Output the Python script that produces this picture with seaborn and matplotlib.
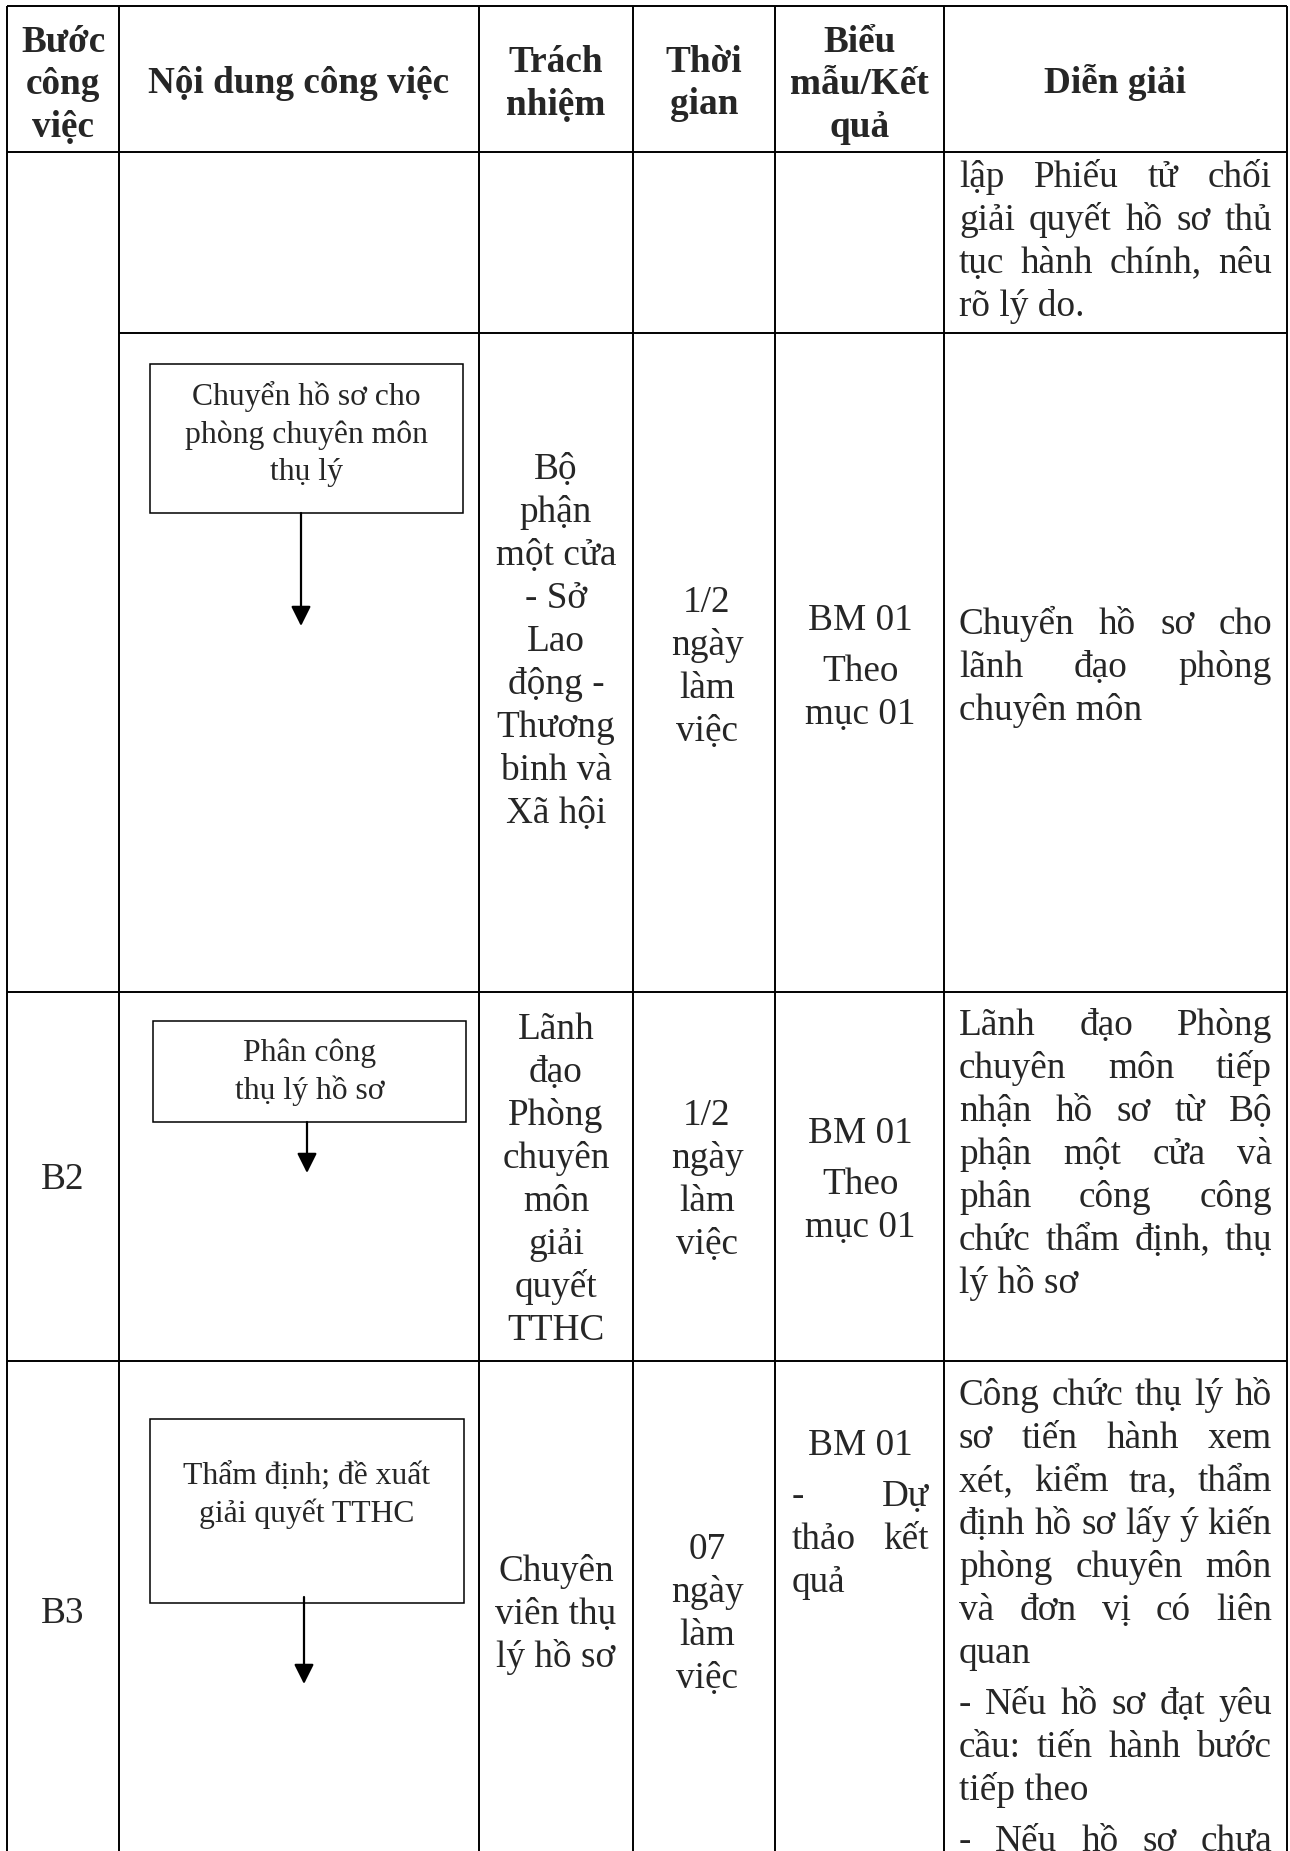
import matplotlib
matplotlib.use("Agg")
import matplotlib.pyplot as plt
from matplotlib.patches import Rectangle
import seaborn as sns

# ---- table content ----
header_step = ["Bước", "công", "việc"]
header_task = ["Nội dung công việc"]
header_resp = ["Trách", "nhiệm"]
header_time = ["Thời", "gian"]
header_form = ["Biểu", "mẫu/Kết", "quả"]
header_desc = ["Diễn giải"]

step_labels = [None, None, "B2", "B3"]

task_boxes = [
    None,
    ["Chuyển hồ sơ cho", "phòng chuyên môn", "thụ lý"],
    ["Phân công", "thụ lý hồ sơ"],
    ["Thẩm định; đề xuất", "giải quyết TTHC"],
]

responsible = [
    [],
    ["Bộ", "phận", "một cửa", "- Sở", "Lao", "động -", "Thương", "binh và", "Xã hội"],
    ["Lãnh", "đạo", "Phòng", "chuyên", "môn", "giải", "quyết", "TTHC"],
    ["Chuyên", "viên thụ", "lý hồ sơ"],
]

durations = [
    [],
    ["1/2", "ngày", "làm", "việc"],
    ["1/2", "ngày", "làm", "việc"],
    ["07", "ngày", "làm", "việc"],
]

forms = [
    [],
    [["BM 01"], ["Theo", "mục 01"]],
    [["BM 01"], ["Theo", "mục 01"]],
    [["BM 01"], ["- Dự", "thảo kết", "quả"]],
]

descriptions = [
    [["lập Phiếu tử chối", "giải quyết hồ sơ thủ", "tục hành chính, nêu", "rõ lý do."]],
    [["Chuyển hồ sơ cho", "lãnh đạo phòng", "chuyên môn"]],
    [["Lãnh đạo Phòng", "chuyên môn tiếp", "nhận hồ sơ từ Bộ", "phận một cửa và",
      "phân công công", "chức thẩm định, thụ", "lý hồ sơ"]],
    [["Công chức thụ lý hồ", "sơ tiến hành xem", "xét, kiểm tra, thẩm",
      "định hồ sơ lấy ý kiến", "phòng chuyên môn", "và đơn vị có liên", "quan"],
     ["- Nếu hồ sơ đạt yêu", "cầu: tiến hành bước", "tiếp theo"],
     ["- Nếu hồ sơ chưa"]],
]

# ---- layout (pixels) ----
W, H = 1290, 1851
col_edges = [7, 119, 479, 633, 775, 944, 1287]
row_edges = [6, 152, 333, 992, 1361]
PITCH = 43
HEAD_PITCH = 42.5
BOX_PITCH = 37.5
PARA_GAP = 8
BODY_SIZE = 26.8
BOX_SIZE = 22.8

resp_y0 = [None, 479, 1039, 1581]
time_y0 = [None, 612, 1125, 1559]
form_y0 = [None, 630, 1143, 1455]
form_modes = [[], ["center", "center"], ["center", "center"], ["center", "justify"]]
desc_y0 = [187, 634, 1035, 1405]
desc_open = [False, False, False, True]
step_y = [None, None, 1189, 1623]
box_rects = [None, (150, 364, 463, 513), (153, 1021, 466, 1122), (150, 1419, 464, 1603)]
box_text_y0 = [None, 405, 1061, 1484]
arrows = [None, (301, 513, 626), (307, 1122, 1173), (304, 1597, 1684)]

sns.set_style("white")
plt.rcParams['font.family'] = ['Liberation Serif', 'DejaVu Serif']

fig = plt.figure(figsize=(W / 100, H / 100), dpi=100)
ax = fig.add_axes([0, 0, 1, 1])
ax.set_xlim(0, W)
ax.set_ylim(H, 0)
ax.axis("off")
renderer = fig.canvas.get_renderer()


def centers(i):
    return (col_edges[i] + col_edges[i + 1]) / 2


def draw_lines(lines, x, y0, pitch, size=BODY_SIZE, **kw):
    for i, line in enumerate(lines):
        ax.text(x, y0 + i * pitch, line, ha="center", va="baseline", fontsize=size, **kw)


def draw_justified(line, x_left, x_right, y, size=BODY_SIZE):
    words = line.split()
    if len(words) == 1:
        ax.text(x_left, y, line, ha="left", va="baseline", fontsize=size)
        return
    texts = [ax.text(0, y, w, ha="left", va="baseline", fontsize=size) for w in words]
    widths = [t.get_window_extent(renderer).width for t in texts]
    gap = (x_right - x_left - sum(widths)) / (len(words) - 1)
    x = x_left
    for t, w in zip(texts, widths):
        t.set_x(x)
        x += w + gap


def draw_paragraphs(paragraphs, modes, x_left, x_right, y0, open_last=False):
    y = y0
    for p_idx, (para, mode) in enumerate(zip(paragraphs, modes)):
        for i, line in enumerate(para):
            last = i == len(para) - 1 and not (open_last and p_idx == len(paragraphs) - 1)
            if mode == "center":
                ax.text((x_left + x_right) / 2, y, line, ha="center", va="baseline",
                        fontsize=BODY_SIZE)
            elif last:
                ax.text(x_left, y, line, ha="left", va="baseline", fontsize=BODY_SIZE)
            else:
                draw_justified(line, x_left, x_right, y)
            y += PITCH
        y += PARA_GAP


# grid lines
lw = 1.4
ax.vlines(col_edges, row_edges[0], H, color="black", lw=lw)
ax.hlines(row_edges[0], col_edges[0], col_edges[-1], color="black", lw=lw)
ax.hlines(row_edges[1], col_edges[0], col_edges[-1], color="black", lw=lw)
ax.hlines(row_edges[2], col_edges[1], col_edges[-1], color="black", lw=lw)
ax.hlines(row_edges[3:], col_edges[0], col_edges[-1], color="black", lw=lw)

# header
draw_lines(header_step, centers(0), 52, HEAD_PITCH, fontweight="bold")
draw_lines(header_task, centers(1), 93, HEAD_PITCH, fontweight="bold")
draw_lines(header_resp, centers(2), 72, HEAD_PITCH, fontweight="bold")
draw_lines(header_time, centers(3), 72, HEAD_PITCH, fontweight="bold")
draw_lines(header_form, centers(4), 52, HEAD_PITCH, fontweight="bold")
draw_lines(header_desc, centers(5), 93, HEAD_PITCH, fontweight="bold")

for r in range(4):
    if step_labels[r]:
        ax.text(centers(0), step_y[r], step_labels[r], ha="center", va="baseline",
                fontsize=BODY_SIZE)
    if task_boxes[r]:
        x0, y0, x1, y1 = box_rects[r]
        ax.add_patch(Rectangle((x0, y0), x1 - x0, y1 - y0, fill=False,
                               edgecolor="black", lw=1.1))
        draw_lines(task_boxes[r], (x0 + x1) / 2, box_text_y0[r], BOX_PITCH, size=BOX_SIZE)
        ax_x, a_y0, a_y1 = arrows[r]
        ax.annotate("", xy=(ax_x, a_y1), xytext=(ax_x, a_y0),
                    arrowprops=dict(arrowstyle="-|>,head_length=1.2,head_width=0.6",
                                    color="black", lw=1.6, shrinkA=0, shrinkB=0,
                                    mutation_scale=10))
    if responsible[r]:
        draw_lines(responsible[r], centers(2), resp_y0[r], PITCH)
    if durations[r]:
        draw_lines(durations[r], centers(3) + 3, time_y0[r], PITCH)
    if forms[r]:
        draw_paragraphs(forms[r], form_modes[r], 792, 929, form_y0[r])
    draw_paragraphs(descriptions[r], ["justify"] * len(descriptions[r]), 959, 1272,
                    desc_y0[r], open_last=desc_open[r])

fig.savefig("out.png", dpi=100, facecolor="white")
